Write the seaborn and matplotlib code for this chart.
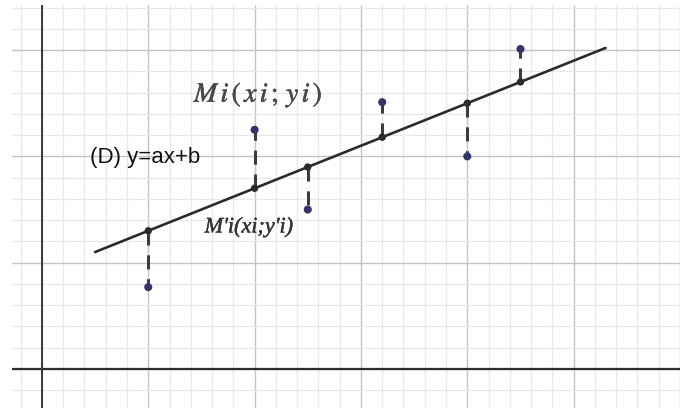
import numpy as np
import pandas as pd
import matplotlib
matplotlib.use("Agg")
import matplotlib.pyplot as plt
import matplotlib.patheffects as pe
import seaborn as sns

# Observed points Mi(xi; yi)
x_vals = [1.0, 2.0, 2.5, 3.2, 4.0, 4.5]
y_obs = [0.77, 2.25, 1.50, 2.51, 2.00, 3.01]

# Line (D): y = a x + b, drawn between these abscissas
slope_a = 0.4
intercept_b = 0.9
line_x = [0.5, 5.3]

sns.set_style("white")
plt.rcParams["mathtext.fontset"] = "stix"

fig = plt.figure(figsize=(6.88, 4.08), dpi=100)
ax = fig.add_axes([12 / 688, 0.0, 668 / 688, 403 / 408])

ax.set_xlim(-0.281, 5.974)
ax.set_ylim(-0.367, 3.424)

# Grid: major every unit, minor every fifth of a unit
ax.set_xticks(np.arange(0, 6.01, 1.0))
ax.set_yticks(np.arange(0, 3.51, 1.0))
ax.set_xticks(np.arange(-0.2, 6.01, 0.2), minor=True)
ax.set_yticks(np.arange(-0.2, 3.51, 0.2), minor=True)
ax.grid(True, which="minor", color="#e8e8e8", linewidth=0.9, zorder=0)
ax.grid(True, which="major", color="#c4c4c4", linewidth=1.0, zorder=0)
ax.tick_params(which="both", length=0, labelbottom=False, labelleft=False)
for s in ax.spines.values():
    s.set_visible(False)

# Coordinate axes
ax.axhline(0, color="#2e2e2e", linewidth=1.6, zorder=1)
ax.axvline(0, color="#3a3a3a", linewidth=1.4, zorder=1)

df = pd.DataFrame({"x": x_vals, "y": y_obs})
df["y_fit"] = slope_a * df["x"] + intercept_b

line_df = pd.DataFrame({"x": line_x})
line_df["y"] = slope_a * line_df["x"] + intercept_b

# Regression line (D)
sns.lineplot(data=line_df, x="x", y="y", ax=ax, color="#2b2b2b",
             linewidth=1.9, zorder=3)

# Vertical residuals between Mi and M'i
for xi, yi, yf in zip(df["x"], df["y"], df["y_fit"]):
    ax.plot([xi, xi], [yf, yi], color="#3c3c3c", linewidth=2.2,
            linestyle=(0, (4.6, 3.2)), zorder=2, solid_capstyle="butt")

# Points on the line M'i and observed points Mi
sns.scatterplot(data=df, x="x", y="y_fit", ax=ax, color="#2a2a2a", s=28,
                edgecolor="none", zorder=4)
sns.scatterplot(data=df, x="x", y="y", ax=ax, color="#34346c", s=34,
                edgecolor="none", zorder=4)

ax.set_xlabel("")
ax.set_ylabel("")

# Labels
ax.text(1.43, 2.58, r"$M\,i\,(\,x\,i\,;\,y\,i\,)$", fontsize=20,
        color="#4a4a4a", ha="left", va="center", zorder=5,
        path_effects=[pe.withStroke(linewidth=0.4, foreground="#4a4a4a")])
ax.text(0.45, 1.99, "(D) y=ax+b", fontsize=16, color="#111111",
        family="Liberation Sans", ha="left", va="center", zorder=5)
ax.text(1.53, 1.33, "M'i(xi;y'i)", fontsize=16, color="#333333",
        family="Liberation Serif", style="italic", ha="left", va="center",
        zorder=5, path_effects=[pe.withStroke(linewidth=0.3,
                                              foreground="#333333")])

fig.savefig("out.png", dpi=100, facecolor="white")
